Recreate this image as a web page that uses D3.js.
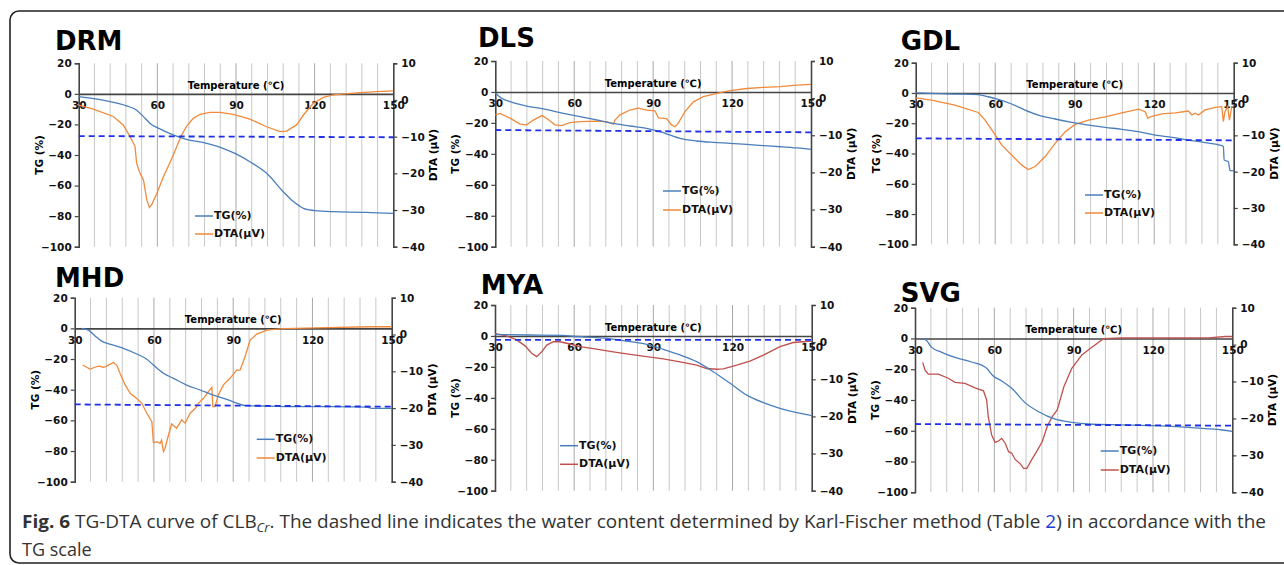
<!DOCTYPE html>
<html><head><meta charset="utf-8">
<script src="https://cdn.jsdelivr.net/npm/d3@7"></script>
<style>
html,body{margin:0;padding:0;background:#fff;}
svg text{font-family:"DejaVu Sans",Verdana,sans-serif;}
</style></head>
<body><svg id="c" width="1284" height="565"></svg>
<script>
// ---------- tick labels ----------
const tempTicks = [30, 60, 90, 120, 150];
const gridTemps = d3.range(36, 150, 6);
const tgTicks = [20, 0, -20, -40, -60, -80, -100];
const dtaTicks = [10, 0, -10, -20, -30, -40];
const panelNames = ["DRM", "DLS", "GDL", "MHD", "MYA", "SVG"];

// ---------- data: [temperature, value] ----------
const drmTG = [[30,-1.8],[42,-5.1],[48.3,-7.9],[52,-10.5],[54.7,-14.9],[58,-20.4],[60,-22.1],[66,-26.9],[71,-29.7],[78.8,-32.4],[85,-35.6],[90,-39.3],[95.3,-44.4],[101.7,-52],[108,-64],[111.9,-70.5],[115.7,-74.9],[120.1,-76.4],[127,-77.1],[139.8,-77.5],[150,-78.2]];
const drmDTA = [[30,-1.4],[35.6,-2.5],[43.2,-4.5],[47,-6.8],[49.6,-10],[51.5,-12.7],[52.1,-17.3],[53.4,-20],[54.7,-21.8],[56,-27.3],[57,-29.3],[57.8,-28.6],[59.8,-25.5],[62.3,-20.9],[64.2,-18],[65.8,-15.5],[67.4,-12.7],[69.3,-9.5],[71.2,-7.1],[73.7,-5],[76.3,-3.9],[80.1,-3.4],[84,-3.4],[89,-3.9],[95.3,-5.2],[101.7,-7.3],[106.8,-8.6],[109.3,-8.5],[113.1,-6.8],[115.7,-4.1],[119.5,-0.9],[123.3,0.7],[127.1,1.4],[137.3,2],[143.6,2.3],[150,2.5]];
const drmWater = [[30,-27.6],[150,-28.4]];

const dlsTG = [[30,-0.5],[32.4,-4.1],[35.6,-6.3],[41.9,-9.1],[48.3,-11],[55.9,-13.8],[62.2,-16],[68.5,-18.1],[74.9,-20.3],[81.2,-22],[87.5,-23.5],[92.6,-25.7],[96.3,-27.8],[100.2,-30],[106.5,-31.7],[112.9,-32.6],[119.2,-33.2],[125.6,-33.9],[131.9,-34.7],[138.3,-35.4],[144.6,-36.2],[150,-37.1]];
const dlsDTA = [[30,-4.5],[31.8,-4.1],[35.6,-5.4],[39.4,-7],[41.9,-7.2],[44.5,-5.9],[47.7,-4.7],[49.5,-5.4],[52.7,-7.2],[55.2,-7.4],[58.4,-6.6],[62.2,-6.3],[68.5,-6.2],[72.3,-6.3],[74.9,-7],[75.5,-5.9],[77.4,-4.5],[81.2,-3.2],[84.4,-2.7],[87.5,-3.2],[90.7,-3.4],[92,-5.3],[95.1,-5.5],[97,-7.2],[98.3,-7.7],[99.5,-6.8],[102.1,-3.6],[105.3,-1],[109.1,0.4],[114.2,1.3],[119.2,2],[125.6,2.6],[131.9,2.9],[138.3,3.1],[144.6,3.5],[150,3.7]];
const dlsWater = [[30,-24.6],[150,-26.1]];

const gdlTG = [[30,0],[36,-0.3],[44.8,-0.7],[53.6,-1.1],[57.4,-2.5],[61.2,-4.2],[66.2,-7.3],[71.3,-11.3],[76.3,-14.6],[82.6,-17.2],[88.9,-19.4],[95.2,-21.2],[101.5,-22.7],[107.8,-24],[114.1,-25.6],[120.4,-27.8],[126.7,-29.3],[132.9,-31.1],[139.2,-32.8],[145.5,-34.8],[146.1,-35.5],[146.4,-44.3],[148,-45.4],[148.6,-51.3],[150,-51.3]];
const gdlDTA = [[30,0.3],[36,-0.3],[44.8,-1.7],[53.6,-3.7],[56.2,-5.8],[60,-9.9],[62.5,-12.7],[66.2,-15.4],[70,-18.2],[72.5,-19.4],[75.1,-18.6],[78.8,-15.9],[82.6,-12.2],[86.4,-9],[90.2,-7],[95.2,-5.8],[101.5,-4.9],[107.8,-3.8],[114.1,-2.8],[116.6,-3.5],[117.6,-5.3],[118.5,-4.9],[122.9,-4.1],[128,-3.8],[132.9,-3.3],[134.2,-4.4],[135.5,-3.9],[136.7,-4.4],[139.2,-3],[143,-2.3],[145.5,-2.1],[146.1,-6.2],[146.7,-3.5],[147.7,-2.1],[148.4,-5.8],[149.2,-2.3],[150,-2.1]];
const gdlWater = [[30,-30],[150,-31.3]];

const mhdTG = [[32.6,0],[35.2,-1.1],[37.7,-5],[40.2,-8.3],[44.6,-10.9],[48.4,-13],[53.5,-16.7],[57.3,-20.2],[59.8,-23.9],[63.6,-29.3],[67.4,-32.6],[72.4,-37],[77.5,-40.2],[82.5,-43.5],[88.1,-46.7],[91.6,-48.9],[94.7,-50.4],[102.9,-50.7],[115.5,-51.1],[127.9,-51.1],[140.5,-51.3],[142.4,-52.2],[150,-52.2]];
const mhdDTA = [[33,-8.3],[35.8,-9.4],[37.7,-8.9],[39,-8.6],[40.9,-8.9],[42.1,-8.6],[44.6,-7.6],[45.9,-8.3],[47.2,-10.6],[49.1,-13.7],[51,-16],[53.5,-17.4],[55.4,-18.7],[57.3,-21.4],[59.2,-23.7],[59.8,-29.4],[61.1,-29.1],[62.3,-29.6],[62.9,-28.7],[63.6,-31.8],[64.2,-30.9],[65.5,-27.3],[66.7,-24.3],[68.6,-25.5],[70.5,-23.2],[71.8,-24.1],[73.7,-21.4],[75.6,-20.1],[76.8,-18.7],[78.7,-17.4],[80.6,-15.5],[81.9,-14.4],[82.3,-19.6],[83.1,-19.6],[84.4,-16.4],[86.3,-13.7],[88.8,-11.9],[91.3,-9.7],[92.6,-9.7],[94.5,-6],[96.4,-1.5],[98.9,0.1],[102.7,1.2],[109,1.6],[121.6,1.8],[141.8,2.1],[150,2.1]];
const mhdWater = [[30,-49.6],[150,-51.1]];

const myaTG = [[30,1],[43.3,0.6],[55.9,0.4],[59.7,-0.2],[68.5,-1.1],[74.8,-2],[81.2,-3.7],[87.5,-5.4],[93.8,-8.7],[100.1,-12.3],[106.4,-16.6],[112.7,-23.1],[119.1,-30.6],[125.4,-38.2],[131.7,-43.1],[138,-46.8],[144.3,-49.6],[150,-51.5]];
const myaDTA = [[30,2.3],[34.4,1.7],[38.2,0.6],[41.4,-1],[43.9,-3],[45.8,-3.9],[47.7,-2.6],[49.6,-0.8],[52.1,0.1],[54.6,0.1],[58.4,-0.5],[62.2,-1.2],[68.5,-1.9],[74.8,-2.6],[81.2,-3.3],[87.5,-3.9],[93.8,-4.5],[100.1,-5.3],[106.4,-6.2],[110.2,-7.1],[114,-7.3],[116.5,-7.2],[121.6,-6.2],[126.6,-5.1],[131.7,-3.5],[138,-1.2],[143,-0.1],[146.8,0.1],[150,0.3]];
const myaWater = [[30,-2.6],[150,-2.6]];

const svgTG = [[32.5,0],[34.4,-1.4],[36.3,-5.8],[40.1,-9],[45.1,-12.3],[51.4,-15.3],[57.1,-19.4],[59.6,-24.4],[62.8,-27.6],[66.6,-32.4],[71.6,-41.7],[76.6,-47.5],[83,-52.5],[89.3,-54.5],[95.6,-55.6],[108.2,-56.2],[120.9,-56.7],[133.4,-57.8],[139.8,-58.6],[146.1,-59.5],[150,-60.4]];
const svgDTA = [[32.9,-4.8],[33.8,-6.9],[35,-8],[38.8,-8],[42.6,-9.1],[45.1,-10.2],[48.9,-10.5],[52.7,-11.7],[55.9,-12.5],[57.1,-15],[57.7,-19.5],[59,-24.5],[60.3,-26.5],[61.6,-26.1],[62.8,-25.4],[64.1,-26.7],[65.4,-29],[66.6,-29.4],[67.9,-31.1],[69.8,-32.3],[71.1,-33.5],[72.3,-33.5],[74.2,-31.1],[76.2,-28.7],[78.1,-26.3],[80,-22.2],[81.9,-19.5],[83.8,-17.7],[86.3,-11.4],[89.3,-6.4],[93.1,-2.8],[96.9,-0.7],[101.3,1.6],[108.2,1.8],[141,1.8],[147.4,2.2],[150,2.2]];
const svgWater = [[30,-55.6],[150,-56.7]];

// ---------- colours ----------
const tgColor = "#4a7ebb", orange = "#f08a3c", red = "#c0504d", waterColor = "#1f30e6";

// ---------- layout ----------
const layout = [
  {L:78.7, R:393.3, T:63.3, B:246.7, tx:55, ty:50, lx:195, ly:[216,234]},
  {L:495.3, R:811, T:61, B:246.7, tx:478, ty:46.7, lx:663, ly:[191,210]},
  {L:915.7, R:1233.7, T:62.7, B:244.3, tx:900.7, ty:50, lx:1085, ly:[195,213]},
  {L:74.7, R:391.7, T:297.7, B:481.7, tx:55, ty:286.7, lx:256.7, ly:[439.3,458]},
  {L:495, R:811.7, T:305, B:490.7, tx:480.7, ty:294.3, lx:560, ly:[445.7,464.3]},
  {L:915, R:1232.3, T:307.7, B:492.3, tx:900.7, ty:301.7, lx:1100.7, ly:[451,470]}
];
const series = [
  {tg:drmTG, dta:drmDTA, water:drmWater, c:orange},
  {tg:dlsTG, dta:dlsDTA, water:dlsWater, c:orange},
  {tg:gdlTG, dta:gdlDTA, water:gdlWater, c:orange},
  {tg:mhdTG, dta:mhdDTA, water:mhdWater, c:orange},
  {tg:myaTG, dta:myaDTA, water:myaWater, c:red},
  {tg:svgTG, dta:svgDTA, water:svgWater, c:red}
];

const svg = d3.select("#c");
svg.append("rect").attr("x",10).attr("y",11).attr("width",1320).attr("height",552)
  .attr("rx",9).attr("fill","none").attr("stroke","#222").attr("stroke-width",1.6);

const axisColor = "#454545";
const tickFont = 10.5;

layout.forEach((p, i) => {
  const s = series[i];
  const x = d3.scaleLinear().domain([30,150]).range([p.L,p.R]);
  const yT = d3.scaleLinear().domain([-100,20]).range([p.B,p.T]);
  const yD = d3.scaleLinear().domain([-40,10]).range([p.B,p.T]);
  const g = svg.append("g");

  // grid lines
  g.selectAll(".grid").data(gridTemps).join("line")
    .attr("x1",d=>x(d)).attr("x2",d=>x(d)).attr("y1",p.T).attr("y2",p.B)
    .attr("stroke",d=>d%30===0?"#a8a8a8":"#c8c8c8").attr("stroke-width",1);

  // left axis
  const la = g.append("g").attr("transform",`translate(${p.L},0)`)
    .call(d3.axisLeft(yT).tickValues(tgTicks).tickSize(4).tickPadding(3));
  // right axis
  const ra = g.append("g").attr("transform",`translate(${p.R},0)`)
    .call(d3.axisRight(yD).tickValues(dtaTicks).tickSize(4).tickPadding(4));
  [la, ra].forEach(a => {
    a.select(".domain").attr("stroke",axisColor).attr("stroke-width",1.6);
    a.selectAll(".tick line").attr("stroke",axisColor).attr("stroke-width",1.2);
    a.selectAll("text").attr("font-size",tickFont).attr("font-weight","bold").attr("fill","#111")
      .style("font-family","'DejaVu Sans',Verdana,sans-serif");
  });
  // temperature axis at TG = 0
  const ta = g.append("g").attr("transform",`translate(0,${yT(0)})`)
    .call(d3.axisBottom(x).tickValues(tempTicks).tickSize(0).tickPadding(8));
  ta.select(".domain").attr("stroke",axisColor).attr("stroke-width",1.6);
  ta.selectAll("text").attr("font-size",tickFont).attr("font-weight","bold").attr("fill","#111")
    .style("font-family","'DejaVu Sans',Verdana,sans-serif");
  g.append("text").attr("x",(p.L+p.R)/2).attr("y",yT(0)-8).attr("text-anchor","middle")
    .attr("dominant-baseline","middle").attr("font-size",10).attr("font-weight","bold")
    .text("Temperature (℃)");

  // axis titles
  const mid = (p.T+p.B)/2;
  g.append("text").attr("transform",`translate(${p.L-39},${mid}) rotate(-90)`)
    .attr("text-anchor","middle").attr("dominant-baseline","middle")
    .attr("font-size",10.5).attr("font-weight","bold").text("TG (%)");
  g.append("text").attr("transform",`translate(${p.R+41},${mid}) rotate(-90)`)
    .attr("text-anchor","middle").attr("dominant-baseline","middle")
    .attr("font-size",10.5).attr("font-weight","bold").text("DTA (μV)");

  // title
  g.append("text").attr("x",p.tx).attr("y",p.ty).attr("font-size",26).attr("font-weight","bold")
    .attr("fill","#000").text(panelNames[i]);

  // curves
  const lT = d3.line().x(d=>x(d[0])).y(d=>yT(d[1])).curve(d3.curveMonotoneX);
  const lD = d3.line().x(d=>x(d[0])).y(d=>yD(d[1])).curve(d3.curveLinear);
  g.append("path").datum(s.dta).attr("d",lD).attr("fill","none").attr("stroke",s.c).attr("stroke-width",1.3);
  g.append("path").datum(s.tg).attr("d",lT).attr("fill","none").attr("stroke",tgColor).attr("stroke-width",1.3);
  g.append("path").datum(s.water).attr("d",d3.line().x(d=>x(d[0])).y(d=>yT(d[1])))
    .attr("fill","none").attr("stroke",waterColor).attr("stroke-width",1.8).attr("stroke-dasharray","6,4");

  // legend
  [["TG(%)",tgColor],["DTA(μV)",s.c]].forEach((e,k)=>{
    g.append("line").attr("x1",p.lx).attr("x2",p.lx+18).attr("y1",p.ly[k]).attr("y2",p.ly[k])
      .attr("stroke",e[1]).attr("stroke-width",1.5);
    g.append("text").attr("x",p.lx+19).attr("y",p.ly[k]).attr("dominant-baseline","middle")
      .attr("font-size",11).attr("font-weight","bold").attr("fill","#111").text(e[0]);
  });
});

// caption
const cap = svg.append("text").attr("x",22).attr("y",528).attr("font-size",18)
  .attr("textLength",1244).attr("lengthAdjust","spacingAndGlyphs")
  .attr("fill","#333").style("font-family","'Open Sans','Noto Sans',sans-serif");
cap.append("tspan").attr("font-weight","bold").text("Fig. 6");
cap.append("tspan").text(" TG-DTA curve of CLB");
cap.append("tspan").attr("font-style","italic").attr("font-size",12.5).attr("dy",4).text("Cr");
cap.append("tspan").attr("dy",-4).text(". The dashed line indicates the water content determined by Karl-Fischer method (Table ");
cap.append("tspan").attr("fill","#1a3fd6").text("2");
cap.append("tspan").text(") in accordance with the");
svg.append("text").attr("x",22).attr("y",556).attr("font-size",18).attr("fill","#333")
  .style("font-family","'Open Sans','Noto Sans',sans-serif").text("TG scale");
</script>
</body></html>
